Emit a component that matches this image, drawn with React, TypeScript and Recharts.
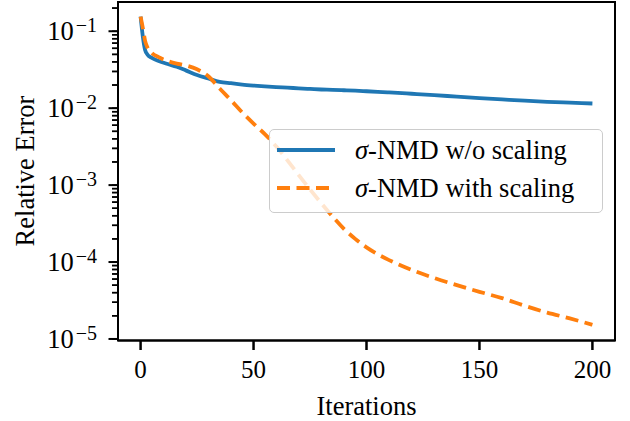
import React from 'react';
import { LineChart, Line, XAxis, YAxis, ReferenceArea } from 'recharts';

const iterations = [0, 1, 2, 3, 5, 8, 12, 16, 20, 25, 30, 35, 40, 45, 50, 55, 60, 65, 70, 75, 80, 85, 90, 95, 100, 105, 110, 120, 130, 140, 150, 160, 170, 180, 190, 200];

const withoutScaling = [0.155, 0.085, 0.057, 0.05, 0.045, 0.041, 0.0375, 0.0345, 0.031, 0.027, 0.0243, 0.022, 0.0211, 0.0203, 0.0197, 0.0192, 0.0188, 0.0185, 0.0181, 0.0178, 0.0175, 0.0173, 0.0171, 0.0169, 0.0166, 0.0163, 0.016, 0.0154, 0.0148, 0.0141, 0.0135, 0.013, 0.0125, 0.0121, 0.0118, 0.0115];

const withScaling = [0.155, 0.11, 0.075, 0.062, 0.052, 0.046, 0.041, 0.038, 0.036, 0.032, 0.026, 0.018, 0.0127, 0.0088, 0.0063, 0.0046, 0.0032, 0.0021, 0.00135, 0.00088, 0.00058, 0.00039, 0.00027, 0.0002, 0.000155, 0.000126, 0.000106, 0.000079, 0.000062, 0.00005, 0.000041, 0.000034, 0.000027, 0.000022, 0.0000185, 0.0000153];

const xTicks = [0, 50, 100, 150, 200];
const yMajorTicks = [1e-5, 1e-4, 1e-3, 1e-2, 1e-1];
const yMinorMultipliers = [2, 3, 4, 5, 6, 7, 8, 9];

const seriesNames = ['w/o scaling', 'with scaling'];
const seriesColors = ['#1f77b4', '#ff7f0e'];
const xLabel = 'Iterations';
const yLabel = 'Relative Error';

const X_DOMAIN: [number, number] = [-10, 210];
const Y_DOMAIN: [number, number] = [9.55e-6, 0.24];

const FONT = '"Liberation Serif", "Times New Roman", serif';

const data = iterations.map((it, i) => ({ iter: it, a: withoutScaling[i], b: withScaling[i] }));

const yTicks: number[] = [];
yMajorTicks.forEach((m) => {
  yTicks.push(m);
  yMinorMultipliers.forEach((k) => {
    const v = Number((m * k).toPrecision(3));
    if (v <= Y_DOMAIN[1]) yTicks.push(v);
  });
});

const isMajor = (v: number) => yMajorTicks.some((m) => Math.abs(m - v) / m < 1e-6);

// YAxis tickSize is 6, so x here is 6px left of the axis line.
const YTick = (props: any) => {
  const { x, y, payload } = props;
  const v = payload.value as number;
  const ax = x + 6;
  if (!isMajor(v)) {
    return (
      <g>
        <line x1={ax} x2={ax - 6} y1={y} y2={y} stroke="#000" strokeWidth={1.5} />
      </g>
    );
  }
  const exp = Math.round(Math.log10(v));
  return (
    <g>
      <line x1={ax} x2={ax - 9.5} y1={y} y2={y} stroke="#000" strokeWidth={2} />
      <text x={ax - 21} y={y + 8.7} textAnchor="end" fontFamily={FONT} fontSize={26.5} fill="#000">
        10
        <tspan dx={2} dy={-8} fontSize={20}>{'\u2212' + String(-exp)}</tspan>
      </text>
    </g>
  );
};

// XAxis tickSize is 9.5, so y here is at the end of the tick mark.
const XTick = (props: any) => {
  const { x, y, payload } = props;
  const ay = y - 9.5;
  return (
    <g>
      <line x1={x} x2={x} y1={ay} y2={ay + 9.5} stroke="#000" strokeWidth={2} />
      <text x={x} y={ay + 37} textAnchor="middle" fontFamily={FONT} fontSize={25} fill="#000">
        {payload.value}
      </text>
    </g>
  );
};

const LegendBox = () => (
  <div
    style={{
      position: 'absolute',
      left: 269,
      top: 129,
      width: 334,
      height: 84,
      boxSizing: 'border-box',
      border: '1.5px solid #cccccc',
      borderRadius: 5,
      background: 'rgba(255,255,255,0.8)',
      fontFamily: FONT,
      fontSize: 26.5,
      color: '#000',
    }}
  >
    {seriesNames.map((name, i) => (
      <div
        key={name}
        style={{
          position: 'absolute',
          left: 7,
          top: (i === 0 ? 20 : 58.3) - 16,
          height: 32,
          display: 'flex',
          alignItems: 'center',
          whiteSpace: 'nowrap',
        }}
      >
        <svg width={58} height={8} style={{ display: 'block' }}>
          <line
            x1={0}
            x2={58}
            y1={4}
            y2={4}
            stroke={seriesColors[i]}
            strokeWidth={3.8}
            strokeDasharray={i === 1 ? '13 6.5' : undefined}
          />
        </svg>
        <span style={{ marginLeft: 20, lineHeight: '32px' }}>
          <i>σ</i>-NMD {name}
        </span>
      </div>
    ))}
  </div>
);

export default function App() {
  return (
    <div style={{ position: 'absolute', left: 0, top: 0 }}>
      <LineChart width={630} height={421} data={data} margin={{ top: 2, right: 15, bottom: 0, left: 0 }}>
        <XAxis
          dataKey="iter"
          type="number"
          domain={X_DOMAIN}
          ticks={xTicks}
          interval={0}
          tickLine={{ stroke: '#000', strokeWidth: 2 }}
          tick={<XTick />}
          tickSize={9.5}
          tickMargin={0}
          axisLine={{ stroke: '#000', strokeWidth: 2 }}
          height={80.5}
        />
        <YAxis
          type="number"
          scale="log"
          domain={Y_DOMAIN}
          allowDataOverflow
          ticks={yTicks}
          interval={0}
          tickLine={{ stroke: '#000', strokeWidth: 1.5 }}
          tick={<YTick />}
          tickSize={6}
          tickMargin={0}
          axisLine={{ stroke: '#000', strokeWidth: 2 }}
          width={118}
        />
        <Line
          type="monotone"
          dataKey="a"
          stroke={seriesColors[0]}
          strokeWidth={3.8}
          dot={false}
          activeDot={false}
          isAnimationActive={false}
        />
        <Line
          type="monotone"
          dataKey="b"
          stroke={seriesColors[1]}
          strokeWidth={3.8}
          strokeDasharray="13 6.5"
          dot={false}
          activeDot={false}
          isAnimationActive={false}
        />
        <ReferenceArea
          x1={X_DOMAIN[0]}
          x2={X_DOMAIN[1]}
          y1={Y_DOMAIN[0]}
          y2={Y_DOMAIN[1]}
          fill="none"
          fillOpacity={0}
          stroke="#000"
          strokeWidth={2}
          ifOverflow="visible"
        />
      </LineChart>
      <div
        style={{
          position: 'absolute',
          left: 118,
          width: 497,
          top: 390.5,
          height: 30,
          lineHeight: '30px',
          textAlign: 'center',
          fontFamily: FONT,
          fontSize: 26.5,
          color: '#000',
          whiteSpace: 'nowrap',
        }}
      >
        {xLabel}
      </div>
      <div
        style={{
          position: 'absolute',
          left: 25 - 150,
          width: 300,
          top: 171 - 15,
          height: 30,
          lineHeight: '30px',
          textAlign: 'center',
          fontFamily: FONT,
          fontSize: 26.5,
          color: '#000',
          whiteSpace: 'nowrap',
          transform: 'rotate(-90deg)',
        }}
      >
        {yLabel}
      </div>
      <LegendBox />
    </div>
  );
}
